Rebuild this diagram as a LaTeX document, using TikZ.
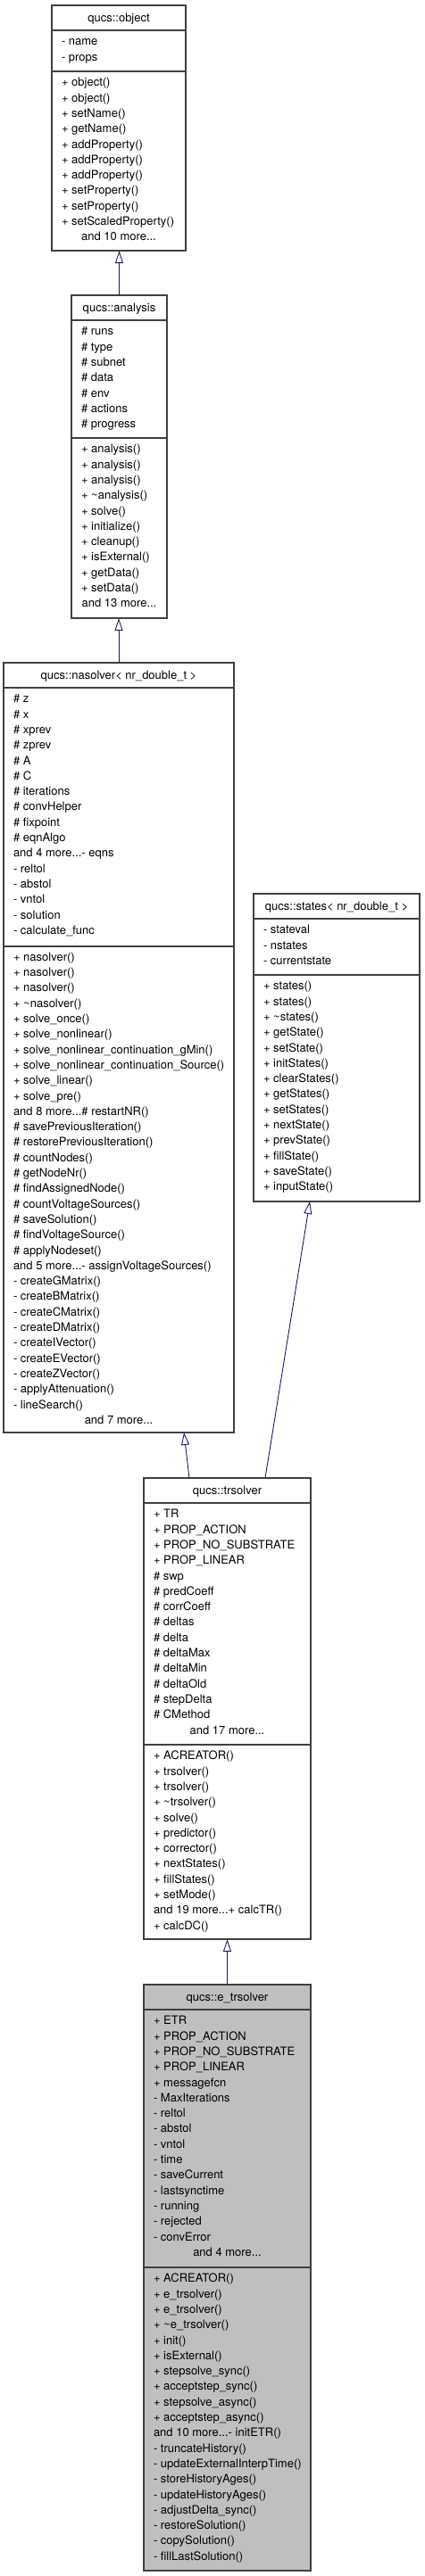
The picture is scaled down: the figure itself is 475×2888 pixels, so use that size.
\documentclass[tikz,border=0pt]{standalone}
\usepackage{fontspec}
\setmainfont{TeX Gyre Heros}
\usetikzlibrary{arrows.meta}
\definecolor{edgeblue}{HTML}{191970}
\definecolor{boxgray}{HTML}{BFBFBF}
\tikzset{
 cls/.style={draw=black!75, line width=1.1pt, inner sep=0pt, outer sep=0pt, anchor=north west},
 sepline/.style={draw=black!75, line width=1.1pt},
 txt/.style={inner sep=0pt, outer sep=0pt, font=\fontsize{13}{15}\selectfont},
 inh/.style={draw=edgeblue, line width=0.9pt, -{Triangle[open, length=14pt, width=9pt, fill=white]}},
}
\newcommand\mdots{...}
% prefix, x, first baseline y, list
\newcommand\umlrows[4]{%
  \foreach \t [count=\i] in {#4} {%
    \node[txt, anchor=base west] (#1-\i) at ({#2}, {#3+(\i-1)*17.3}) {\t};
  }%
}
\begin{document}
\begin{tikzpicture}[x=1pt, y=-1pt]
\useasboundingbox (0,0) rectangle (475,2888);

% ---------------- qucs::object
\node[cls, fill=white, minimum width=150pt, minimum height=275pt] (obj) at (58,6) {};
\draw[sepline] (obj.west |- 0,34) -- (obj.east |- 0,34);
\draw[sepline] (obj.west |- 0,80) -- (obj.east |- 0,80);
\node[txt, anchor=base] (obj-t) at (133,24) {qucs::object};
\umlrows{obja}{69}{50.8}{- name, - props}
\umlrows{objm}{69}{96.8}{+ object(), + object(), + setName(), + getName(), + addProperty(), + addProperty(), + addProperty(), + setProperty(), + setProperty(), + setScaledProperty()}
\node[txt, anchor=base] (objm-more) at (133,{96.8+10*17.3}) {and 10 more...};

% ---------------- qucs::analysis
\node[cls, fill=white, minimum width=107pt, minimum height=362pt] (ana) at (80,331) {};
\draw[sepline] (ana.west |- 0,359) -- (ana.east |- 0,359);
\draw[sepline] (ana.west |- 0,491) -- (ana.east |- 0,491);
\node[txt, anchor=base] (ana-t) at (133.5,349) {qucs::analysis};
\umlrows{anaa}{91}{375.8}{\# runs, \# type, \# subnet, \# data, \# env, \# actions, \# progress}
\umlrows{anam}{91}{507.8}{+ analysis(), + analysis(), + analysis(), + \textasciitilde analysis(), + solve(), + initialize(), + cleanup(), + isExternal(), + getData(), + setData()}
\node[txt, anchor=base] (anam-more) at (133.5,{507.8+10*17.3}) {and 13 more...};

% ---------------- qucs::nasolver
\node[cls, fill=white, minimum width=258pt, minimum height=863pt] (na) at (4,743) {};
\draw[sepline] (na.west |- 0,771) -- (na.east |- 0,771);
\draw[sepline] (na.west |- 0,1061) -- (na.east |- 0,1061);
\node[txt, anchor=base] (na-t) at (133,761) {qucs::nasolver< nr\_double\_t >};
\umlrows{naa}{15}{787.8}{\# z, \# x, \# xprev, \# zprev, \# A, \# C, \# iterations, \# convHelper, \# fixpoint, \# eqnAlgo, and 4 more\mdots- eqns, - reltol, - abstol, - vntol, - solution, - calculate\_func}
\umlrows{nam}{15}{1077.3}{+ nasolver(), + nasolver(), + nasolver(), + \textasciitilde nasolver(), + solve\_once(), + solve\_nonlinear(), + solve\_nonlinear\_continuation\_gMin(), + solve\_nonlinear\_continuation\_Source(), + solve\_linear(), + solve\_pre(), and 8 more\mdots\# restartNR(), \# savePreviousIteration(), \# restorePreviousIteration(), \# countNodes(), \# getNodeNr(), \# findAssignedNode(), \# countVoltageSources(), \# saveSolution(), \# findVoltageSource(), \# applyNodeset(), and 5 more\mdots- assignVoltageSources(), - createGMatrix(), - createBMatrix(), - createCMatrix(), - createDMatrix(), - createIVector(), - createEVector(), - createZVector(), - applyAttenuation(), - lineSearch()}
\node[txt, anchor=base] (nam-more) at (133,{1077.3+30*17.3}) {and 7 more...};

% ---------------- qucs::states
\node[cls, fill=white, minimum width=186pt, minimum height=345pt] (st) at (284,1002) {};
\draw[sepline] (st.west |- 0,1030) -- (st.east |- 0,1030);
\draw[sepline] (st.west |- 0,1093) -- (st.east |- 0,1093);
\node[txt, anchor=base] (st-t) at (377,1020) {qucs::states< nr\_double\_t >};
\umlrows{sta}{295}{1046.8}{- stateval, - nstates, - currentstate}
\umlrows{stm}{295}{1109.8}{+ states(), + states(), + \textasciitilde states(), + getState(), + setState(), + initStates(), + clearStates(), + getStates(), + setStates(), + nextState(), + prevState(), + fillState(), + saveState(), + inputState()}

% ---------------- qucs::trsolver
\node[cls, fill=white, minimum width=187pt, minimum height=517pt] (tr) at (161,1657) {};
\draw[sepline] (tr.west |- 0,1685) -- (tr.east |- 0,1685);
\draw[sepline] (tr.west |- 0,1956) -- (tr.east |- 0,1956);
\node[txt, anchor=base] (tr-t) at (254.5,1675) {qucs::trsolver};
\umlrows{tra}{172}{1701.8}{+ TR, + PROP\_ACTION, + PROP\_NO\_SUBSTRATE, + PROP\_LINEAR, \# swp, \# predCoeff, \# corrCoeff, \# deltas, \# delta, \# deltaMax, \# deltaMin, \# deltaOld, \# stepDelta, \# CMethod}
\node[txt, anchor=base] (tra-more) at (254.5,{1701.8+14*17.3}) {and 17 more...};
\umlrows{trm}{172}{1972.8}{+ ACREATOR(), + trsolver(), + trsolver(), + \textasciitilde trsolver(), + solve(), + predictor(), + corrector(), + nextStates(), + fillStates(), + setMode(), and 19 more\mdots+ calcTR(), + calcDC()}

% ---------------- qucs::e_trsolver
\node[cls, fill=boxgray, minimum width=187pt, minimum height=657pt] (etr) at (161,2225) {};
\draw[sepline] (etr.west |- 0,2253) -- (etr.east |- 0,2253);
\draw[sepline] (etr.west |- 0,2542) -- (etr.east |- 0,2542);
\node[txt, anchor=base] (etr-t) at (254.5,2243) {qucs::e\_trsolver};
\umlrows{etra}{172}{2269.8}{+ ETR, + PROP\_ACTION, + PROP\_NO\_SUBSTRATE, + PROP\_LINEAR, + messagefcn, - MaxIterations, - reltol, - abstol, - vntol, - time, - saveCurrent, - lastsynctime, - running, - rejected, - convError}
\node[txt, anchor=base] (etra-more) at (254.5,{2269.8+15*17.3}) {and 4 more...};
\umlrows{etrm}{172}{2558.8}{+ ACREATOR(), + e\_trsolver(), + e\_trsolver(), + \textasciitilde e\_trsolver(), + init(), + isExternal(), + stepsolve\_sync(), + acceptstep\_sync(), + stepsolve\_async(), + acceptstep\_async(), and 10 more\mdots- initETR(), - truncateHistory(), - updateExternalInterpTime(), - storeHistoryAges(), - updateHistoryAges(), - adjustDelta\_sync(), - restoreSolution(), - copySolution(), - fillLastSolution()}

% ---------------- inheritance connectors
\coordinate (trL) at ([xshift=51pt]tr.north west);
\coordinate (naB) at ([xshift=202pt]na.south west);
\coordinate (trR) at ([xshift=136pt]tr.north west);
\coordinate (stB) at ([xshift=63pt]st.south west);
\draw[inh] (ana.north) -- (ana.north |- obj.south);
\draw[inh] (na.north) -- (na.north |- ana.south);
\draw[inh] (trL) -- (naB);
\draw[inh] (trR) -- (stB);
\draw[inh] (etr.north) -- (etr.north |- tr.south);
\end{tikzpicture}
\end{document}
